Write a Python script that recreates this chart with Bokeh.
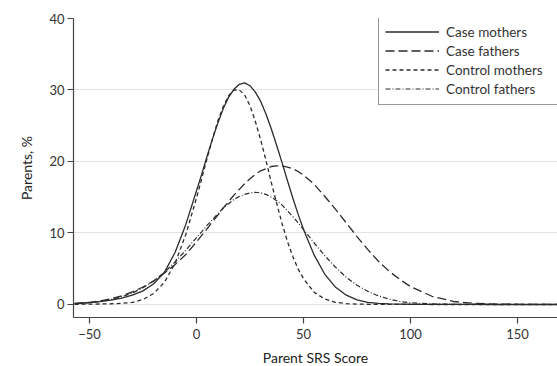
from bokeh.plotting import figure
from bokeh.models import Range1d, Legend, LegendItem, FixedTicker
from bokeh.embed import file_html
from bokeh.resources import INLINE

# Parent SRS score (x) and percentage of parents (y)
srs_score = [-57, -50, -45, -40, -35, -30, -25, -20, -15, -10, -5,
             0, 2.5, 5, 7.5, 10, 12.5, 15, 17.5, 20, 22.5,
             25, 27.5, 30, 32.5, 35, 37.5, 40, 42.5, 45, 47.5, 50,
             55, 60, 65, 70, 75, 80, 85, 90, 95, 100,
             110, 120, 130, 140, 150, 160, 168.7]

case_mothers = [0.1, 0.25, 0.4, 0.6, 0.9, 1.3, 1.9, 2.9, 4.5, 7.3, 11.2,
                15.9, 18.3, 20.8, 23.2, 25.4, 27.4, 29.0, 30.1, 30.8, 31.0,
                30.6, 29.7, 28.4, 26.6, 24.5, 22.2, 19.8, 17.3, 14.9, 12.6, 10.5,
                6.9, 4.2, 2.4, 1.3, 0.65, 0.3, 0.15, 0.08, 0.05, 0.03,
                0.02, 0.01, 0.01, 0, 0, 0, 0]

case_fathers = [0.15, 0.3, 0.5, 0.8, 1.2, 1.75, 2.45, 3.3, 4.4, 5.6, 7.0,
                8.75, 9.7, 10.6, 11.6, 12.5, 13.5, 14.4, 15.3, 16.1, 16.9,
                17.6, 18.2, 18.7, 19.0, 19.3, 19.4, 19.4, 19.2, 19.0, 18.6, 18.1,
                16.8, 15.1, 13.3, 11.4, 9.5, 7.7, 6.05, 4.65, 3.5, 2.5,
                1.15, 0.42, 0.14, 0.06, 0.03, 0.02, 0.01]

control_mothers = [0.03, 0.05, 0.07, 0.1, 0.15, 0.3, 0.7, 1.55, 3.1, 5.8, 9.8,
                   14.9, 17.7, 20.5, 23.2, 25.7, 27.7, 29.2, 30.0, 30.0, 29.3,
                   27.8, 25.6, 23.0, 20.1, 17.0, 14.1, 11.3, 8.8, 6.7, 4.95, 3.6,
                   1.7, 0.75, 0.3, 0.12, 0.05, 0.03, 0.02, 0.01, 0.01, 0.01,
                   0, 0, 0, 0, 0, 0, 0]

control_fathers = [0.12, 0.26, 0.43, 0.7, 1.08, 1.6, 2.35, 3.3, 4.5, 5.95, 7.6,
                   9.35, 10.2, 11.1, 11.9, 12.7, 13.5, 14.1, 14.7, 15.1, 15.4,
                   15.6, 15.7, 15.6, 15.4, 15.0, 14.5, 13.9, 13.1, 12.3, 11.4, 10.5,
                   8.6, 6.8, 5.2, 3.8, 2.7, 1.85, 1.2, 0.75, 0.42, 0.24,
                   0.08, 0.03, 0.01, 0, 0, 0, 0]

series_names = ["Case mothers", "Case fathers", "Control mothers", "Control fathers"]
x_ticks = [-50, 0, 50, 100, 150]
y_ticks = [0, 10, 20, 30, 40]

FONT = "Lato"
TEXT = "#333333"

p = figure(frame_width=484, frame_height=299, output_backend="svg", toolbar_location=None,
           x_range=Range1d(-57.5, 168.7), y_range=Range1d(-1.82, 40),
           min_border_left=73, min_border_right=0, min_border_top=18,
           min_border_bottom=0)
p.outline_line_color = None
p.background_fill_color = "white"
p.border_fill_color = "white"

p.xgrid.grid_line_color = None
p.ygrid.grid_line_color = "#e3e3e3"
p.ygrid.grid_line_width = 1

for ax in (p.xaxis[0], p.yaxis[0]):
    ax.axis_line_color = "#444444"
    ax.axis_line_width = 1.2
    ax.major_tick_line_color = "#444444"
    ax.major_tick_line_width = 1.2
    ax.major_tick_out = 6
    ax.major_tick_in = 0
    ax.minor_tick_line_color = None
    ax.major_label_text_font = FONT
    ax.major_label_text_font_size = "13px"
    ax.major_label_text_color = TEXT
    ax.axis_label_text_font = FONT
    ax.axis_label_text_font_size = "14px"
    ax.axis_label_text_font_style = "normal"
    ax.axis_label_text_color = "#222222"

p.xaxis.ticker = FixedTicker(ticks=x_ticks)
p.yaxis.ticker = FixedTicker(ticks=y_ticks)
p.ygrid.ticker = FixedTicker(ticks=y_ticks)
p.xaxis.axis_label = "Parent SRS Score"
p.yaxis.axis_label = "Parents, %"
p.xaxis.major_label_standoff = 5
p.xaxis.axis_label_standoff = 7
p.yaxis.major_label_standoff = 3
p.yaxis.axis_label_standoff = 11

color = "#2b2b2b"
r1 = p.line(srs_score, case_mothers, line_color=color, line_width=1.3)
r2 = p.line(srs_score, case_fathers, line_color=color, line_width=1.3, line_dash="9 4")
r3 = p.line(srs_score, control_mothers, line_color=color, line_width=1.3, line_dash="4 3")
r4 = p.line(srs_score, control_fathers, line_color=color, line_width=1.2, line_dash="5 2 1 2")

legend = Legend(items=[LegendItem(label=series_names[0], renderers=[r1]),
                       LegendItem(label=series_names[1], renderers=[r2]),
                       LegendItem(label=series_names[2], renderers=[r3]),
                       LegendItem(label=series_names[3], renderers=[r4])],
                location=(305, 212))
legend.border_line_color = "#333333"
legend.border_line_width = 1
legend.background_fill_color = "white"
legend.background_fill_alpha = 1
legend.padding = 6
legend.spacing = 0
legend.margin = 0
legend.glyph_width = 54
legend.glyph_height = 19
legend.label_height = 19
legend.label_width = 105
legend.label_standoff = 7
legend.label_text_font = FONT
legend.label_text_font_size = "13.5px"
legend.label_text_color = TEXT
p.add_layout(legend, "center")

open("out.html", "w").write(file_html(p, INLINE))
